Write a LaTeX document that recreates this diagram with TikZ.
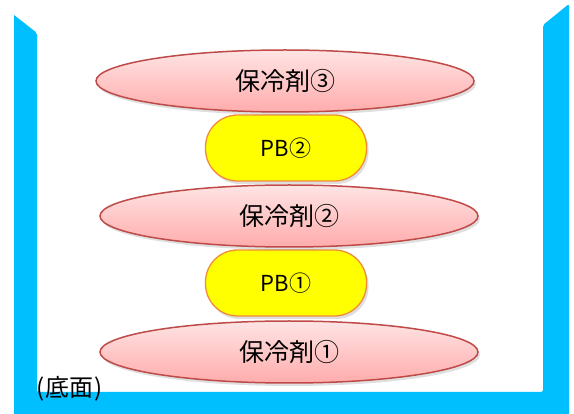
\documentclass[tikz,border=0pt]{standalone}
\usepackage{fontspec}
\setmainfont{Noto Sans CJK JP}
\usetikzlibrary{shapes.geometric,shadows}
\definecolor{wallc}{RGB}{0,191,255}
\definecolor{coolline}{RGB}{190,75,72}
\definecolor{cooltop}{RGB}{255,228,228}
\definecolor{coolbot}{RGB}{255,172,172}
\definecolor{pbline}{RGB}{240,140,60}
\definecolor{pbfill}{RGB}{255,255,0}
\tikzset{
  coolant/.style={ellipse, draw=coolline, line width=1.5pt, top color=cooltop, bottom color=coolbot,
    minimum width=378pt, minimum height=62pt, inner sep=0pt,
    drop shadow={opacity=0.25, shadow xshift=2pt, shadow yshift=-3pt},
    font=\fontsize{25}{28}\selectfont},
  pbbox/.style={rectangle, rounded corners=32pt, draw=pbline, line width=1.3pt, fill=pbfill,
    minimum width=161pt, minimum height=66pt, inner sep=0pt,
    drop shadow={opacity=0.25, shadow xshift=2pt, shadow yshift=-3pt},
    font=\fontsize{22}{25}\selectfont},
}
\begin{document}
\begin{tikzpicture}[x=1pt,y=-1pt]
\useasboundingbox (0,0) rectangle (574,414);
\fill[white] (0,0) rectangle (574,414);
% container
\fill[wallc, rounded corners=2pt] (14,15) -- (37,33) -- (37,392) -- (543,392) -- (543,25) -- (569,4)
  [sharp corners] -- (569,414) -- (14,414) -- cycle;
\node[anchor=base west, font=\fontsize{24}{28}\selectfont, inner sep=0pt] (floor) at (36,397) {(\kern1pt底面\kern1pt)};
% layers
\node[coolant] (c1) at (289,352) {保冷剤①};
\node[pbbox] (p1) at (286,283) {PB①};
\node[coolant] (c2) at (289,216) {保冷剤②};
\node[pbbox] (p2) at (286,148) {PB②};
\node[coolant] (c3) at (285,81) {保冷剤③};
\end{tikzpicture}
\end{document}
